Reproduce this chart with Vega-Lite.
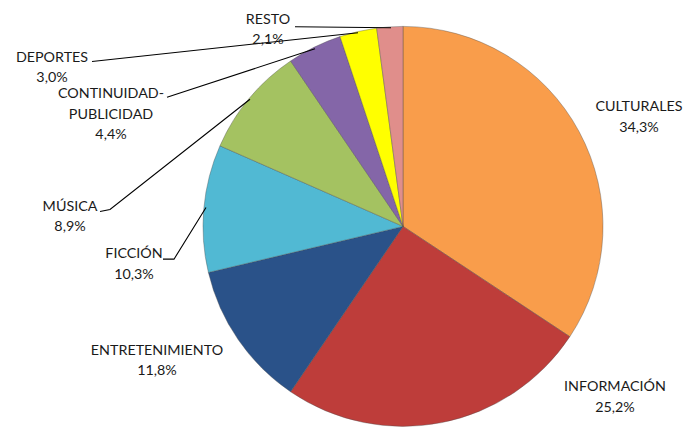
{
  "$schema": "https://vega.github.io/schema/vega-lite/v6.json",
  "autosize": {"type": "fit", "contains": "padding"},
  "width": 693,
  "height": 427,
  "padding": 0,
  "background": "white",
  "config": {"view": {"stroke": null}},
  "datasets": {
    "slices": [
      {"category": "CULTURALES", "value": 34.3, "order": 1},
      {"category": "INFORMACIÓN", "value": 25.2, "order": 2},
      {"category": "ENTRETENIMIENTO", "value": 11.8, "order": 3},
      {"category": "FICCIÓN", "value": 10.3, "order": 4},
      {"category": "MÚSICA", "value": 8.9, "order": 5},
      {"category": "CONTINUIDAD-PUBLICIDAD", "value": 4.4, "order": 6},
      {"category": "DEPORTES", "value": 3.0, "order": 7},
      {"category": "RESTO", "value": 2.1, "order": 8}
    ],
    "labels": [
      {"category": "CULTURALES", "label": "CULTURALES\n34,3%", "lx": 1.18, "ly": 0.6},
      {"category": "INFORMACIÓN", "label": "INFORMACIÓN\n25,2%", "lx": 1.06, "ly": -0.81},
      {"category": "ENTRETENIMIENTO", "label": "ENTRETENIMIENTO\n11,8%", "lx": -1.23, "ly": -0.625},
      {"category": "FICCIÓN", "label": "FICCIÓN\n10,3%", "lx": -1.345, "ly": -0.14},
      {"category": "MÚSICA", "label": "MÚSICA\n8,9%", "lx": -1.665, "ly": 0.1},
      {"category": "CONTINUIDAD-PUBLICIDAD", "label": "CONTINUIDAD-\nPUBLICIDAD\n4,4%", "lx": -1.46, "ly": 0.665},
      {"category": "DEPORTES", "label": "DEPORTES\n3,0%", "lx": -1.755, "ly": 0.85},
      {"category": "RESTO", "label": "RESTO\n2,1%", "lx": -0.675, "ly": 1.04}
    ],
    "leaders": [
      {"category": "RESTO", "pt": 1, "lx": -0.54, "ly": 1.005},
      {"category": "RESTO", "pt": 2, "lx": -0.06, "ly": 1.0},
      {"category": "DEPORTES", "pt": 1, "lx": -1.555, "ly": 0.83},
      {"category": "DEPORTES", "pt": 2, "lx": -0.225, "ly": 0.975},
      {"category": "CONTINUIDAD-PUBLICIDAD", "pt": 1, "lx": -1.18, "ly": 0.65},
      {"category": "CONTINUIDAD-PUBLICIDAD", "pt": 2, "lx": -0.44, "ly": 0.895},
      {"category": "MÚSICA", "pt": 1, "lx": -1.515, "ly": 0.075},
      {"category": "MÚSICA", "pt": 2, "lx": -1.465, "ly": 0.085},
      {"category": "MÚSICA", "pt": 3, "lx": -0.765, "ly": 0.64},
      {"category": "FICCIÓN", "pt": 1, "lx": -1.2, "ly": -0.165},
      {"category": "FICCIÓN", "pt": 2, "lx": -1.145, "ly": -0.165},
      {"category": "FICCIÓN", "pt": 3, "lx": -0.985, "ly": 0.095}
    ]
  },
  "layer": [
    {
      "data": {"name": "slices"},
      "mark": {"type": "arc", "outerRadius": 200, "stroke": "#4d4d4d", "strokeWidth": 0.7, "strokeOpacity": 0.55},
      "encoding": {
        "theta": {"field": "value", "type": "quantitative", "stack": true},
        "order": {"field": "order", "type": "quantitative"},
        "color": {
          "field": "category",
          "type": "nominal",
          "legend": null,
          "scale": {
            "domain": ["CULTURALES", "INFORMACIÓN", "ENTRETENIMIENTO", "FICCIÓN", "MÚSICA", "CONTINUIDAD-PUBLICIDAD", "DEPORTES", "RESTO"],
            "range": ["#F99D4B", "#BE3D3A", "#2A5289", "#51B9D3", "#A4C261", "#8466A8", "#FFFF00", "#E08E8B"]
          }
        },
        "x": {"datum": 0, "type": "quantitative", "scale": {"domain": [-2.015, 1.45], "nice": false, "zero": false}, "axis": null},
        "y": {"datum": 0, "type": "quantitative", "scale": {"domain": [-0.995, 1.14], "nice": false, "zero": false}, "axis": null}
      }
    },
    {
      "data": {"name": "leaders"},
      "mark": {"type": "line", "color": "#000000", "strokeWidth": 1.1},
      "encoding": {
        "x": {"field": "lx", "type": "quantitative", "axis": null},
        "y": {"field": "ly", "type": "quantitative", "axis": null},
        "detail": {"field": "category"},
        "order": {"field": "pt", "type": "quantitative"}
      }
    },
    {
      "data": {"name": "labels"},
      "mark": {"type": "text", "lineBreak": "\n", "font": "Lato", "fontSize": 14.3, "lineHeight": 20.5, "align": "center", "baseline": "middle", "color": "#1a1a1a"},
      "encoding": {
        "x": {"field": "lx", "type": "quantitative", "axis": null},
        "y": {"field": "ly", "type": "quantitative", "axis": null},
        "text": {"field": "label"}
      }
    }
  ]
}
